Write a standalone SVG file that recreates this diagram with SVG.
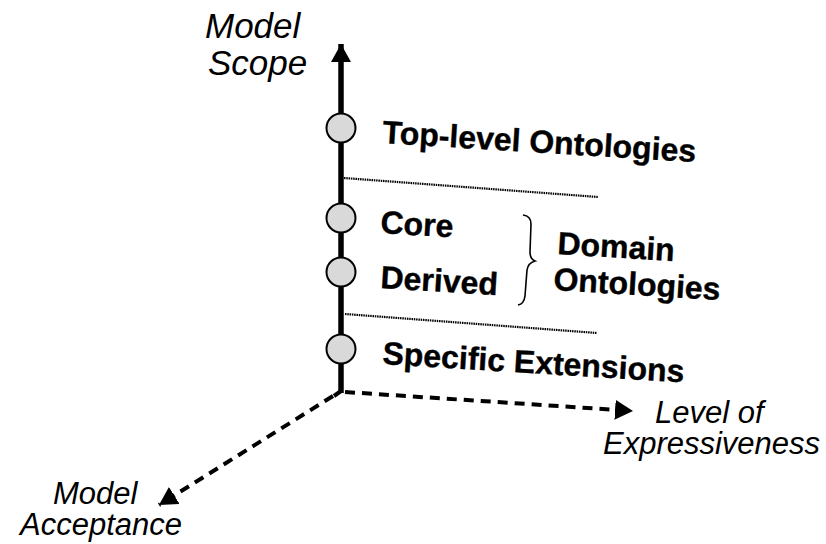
<svg xmlns="http://www.w3.org/2000/svg" width="826" height="544" viewBox="0 0 826 544">
<style>
.bold{font-family:"Liberation Sans",Arial,sans-serif;font-weight:bold;font-size:32px;fill:#000;stroke:#000;stroke-width:0.4}
.ital{font-family:"Liberation Sans",Arial,sans-serif;font-style:italic;font-size:31px;fill:#000}
.node circle{fill:#d9d9d9;stroke:#000;stroke-width:2}
.dots{stroke:#000;stroke-width:2.2;stroke-dasharray:1.5 0.8;fill:none}
.dash{stroke:#000;stroke-width:4;stroke-dasharray:10 7;fill:none}
</style>
<defs>
<marker id="tri" markerUnits="userSpaceOnUse" markerWidth="20" markerHeight="20" refX="18" refY="10" orient="auto" viewBox="0 0 20 20">
<path d="M0,0 L18,10 L0,20 Z" fill="#000"/>
</marker>
</defs>
<rect width="826" height="544" fill="#fff"/>
<g id="connectors">
<line x1="341" y1="393" x2="341" y2="44" stroke="#000" stroke-width="5.5" marker-end="url(#tri)"/>
<path d="M341,391 L334,396" stroke="#000" stroke-width="4" fill="none"/>
<path class="dash" d="M345,392 L633,411" marker-end="url(#tri)"/>
<path class="dash" d="M333,396 L159,505" marker-end="url(#tri)"/>
<path class="dots" d="M344,178 L598,197"/>
<path class="dots" d="M345,314 L597,333"/>
<path d="M523,215 Q531,216 531,224 L530,252 Q530,259 535,261 Q528,263 527,270 L525,296 Q524,304 518,305" stroke="#000" stroke-width="1.6" fill="none"/>
</g>
<g id="top-level" class="node">
<circle cx="341" cy="128" r="14.5"/>
<text class="bold" transform="translate(382,143) rotate(3.5)">Top-level Ontologies</text>
</g>
<g id="core" class="node">
<circle cx="341" cy="218" r="14.5"/>
<text class="bold" transform="translate(380,233) rotate(3.5)">Core</text>
</g>
<g id="derived" class="node">
<circle cx="341" cy="272" r="14.5"/>
<text class="bold" transform="translate(380,288) rotate(3.5)">Derived</text>
</g>
<g id="domain">
<text class="bold" transform="translate(557,254) rotate(3.5)">Domain</text>
<text class="bold" transform="translate(553,290) rotate(3.5)">Ontologies</text>
</g>
<g id="specific" class="node">
<circle cx="341" cy="349" r="14.5"/>
<text class="bold" transform="translate(382,364) rotate(3.5)">Specific Extensions</text>
</g>
<g id="labels">
<text class="ital" x="205" y="38" style="font-size:35px">Model</text>
<text class="ital" x="208" y="75" style="font-size:35px">Scope</text>
<text class="ital" x="655" y="423">Level of</text>
<text class="ital" x="603" y="454">Expressiveness</text>
<text class="ital" x="53" y="504">Model</text>
<text class="ital" x="20" y="535">Acceptance</text>
</g>
</svg>
